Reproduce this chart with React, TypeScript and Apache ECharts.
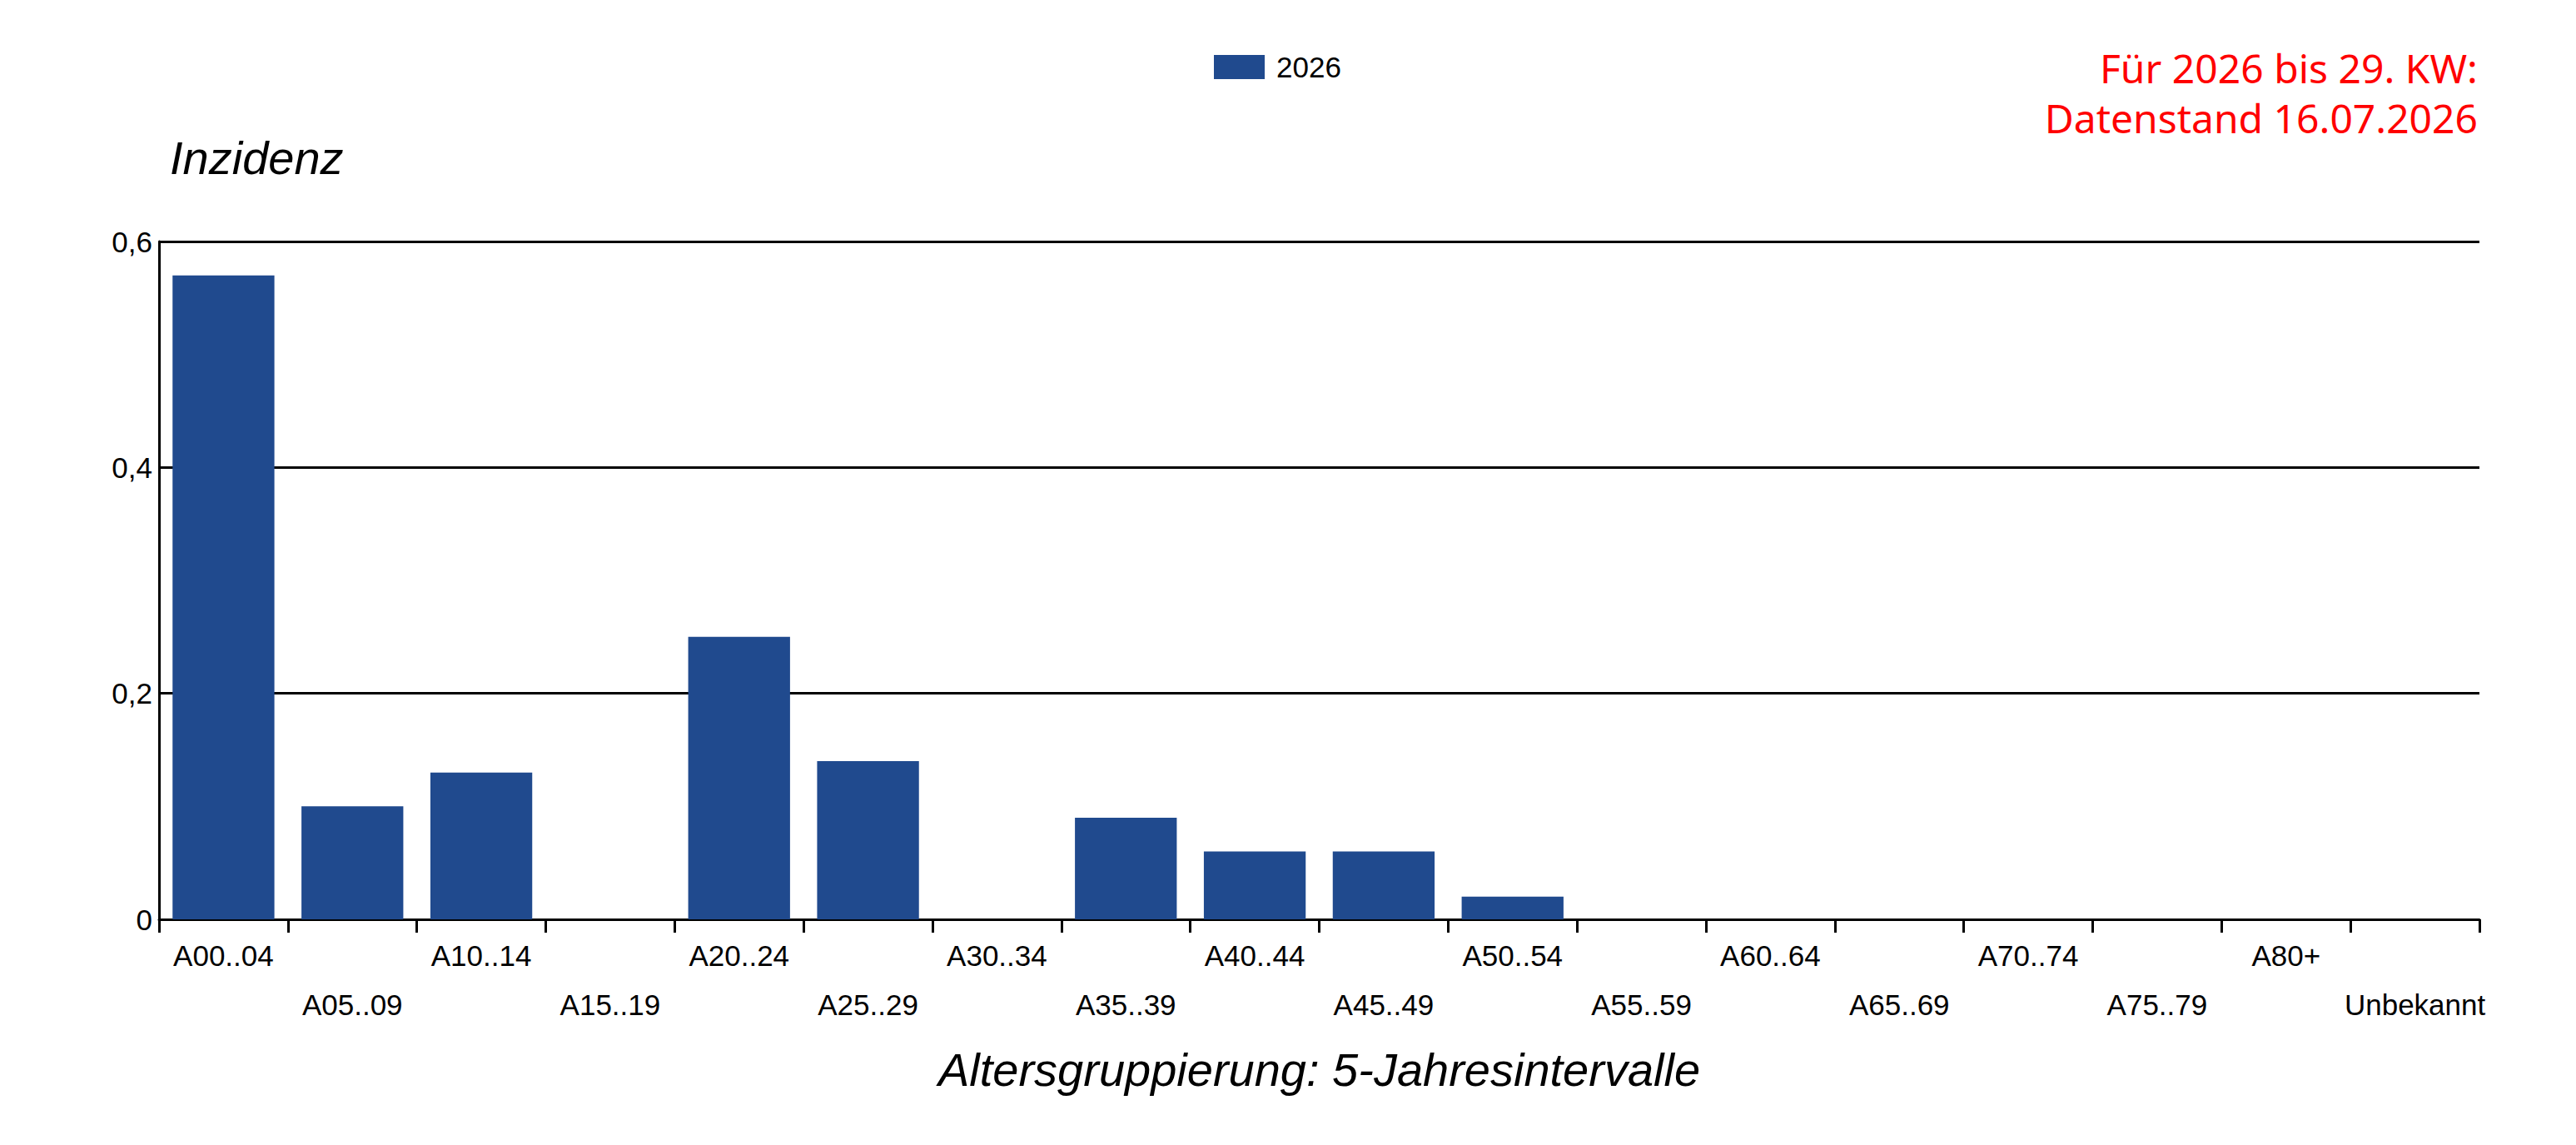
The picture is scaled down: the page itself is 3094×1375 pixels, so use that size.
import React, { useEffect, useRef } from 'react';
import * as echarts from 'echarts';

// age groups (5-year bands) and the incidence for 2026
const ageGroups = [
  'A00..04', 'A05..09', 'A10..14', 'A15..19', 'A20..24', 'A25..29',
  'A30..34', 'A35..39', 'A40..44', 'A45..49', 'A50..54', 'A55..59',
  'A60..64', 'A65..69', 'A70..74', 'A75..79', 'A80+', 'Unbekannt',
];
const incidence2026 = [
  0.57, 0.1, 0.13, 0, 0.25, 0.14,
  0, 0.09, 0.06, 0.06, 0.02, 0,
  0, 0, 0, 0, 0, 0,
];
const seriesName = '2026';
const yMin = 0;
const yMax = 0.6;
const yStep = 0.2;
const noteLines = ['Für 2026 bis 29. KW:', 'Datenstand 16.07.2026'];

const BAR_COLOR = '#204a8e';
const FONT = 'Liberation Sans, Arial, sans-serif';

const App: React.FC = () => {
  const chartRef = useRef<HTMLDivElement>(null);

  useEffect(() => {
    const chart = echarts.init(chartRef.current!, null, { renderer: 'svg' });

    const options = {
      animation: false,
      textStyle: { fontFamily: FONT },
      legend: {
        left: 1458,
        top: 63,
        padding: 0,
        icon: 'rect',
        itemWidth: 61,
        itemHeight: 29,
        data: [seriesName],
        textStyle: {
          fontFamily: FONT,
          fontSize: 35,
          color: '#000',
          lineHeight: 29,
          padding: [0, 0, 0, 9],
        },
      },
      grid: {
        left: 191,
        right: 116,
        top: 290,
        bottom: 271,
        containLabel: false,
      },
      xAxis: {
        type: 'category',
        data: ageGroups,
        name: 'Altersgruppierung: 5-Jahresintervalle',
        nameLocation: 'middle',
        nameGap: 180,
        nameTextStyle: {
          fontFamily: FONT,
          fontSize: 56,
          fontStyle: 'italic',
          color: '#000',
          verticalAlign: 'middle',
        },
        axisLine: { show: true, lineStyle: { color: '#000', width: 3 } },
        axisTick: { show: true, interval: 0, length: 16, lineStyle: { color: '#000', width: 3 } },
        axisLabel: {
          interval: 0,
          margin: 14,
          fontFamily: FONT,
          fontSize: 35,
          color: '#000',
          lineHeight: 59,
          // every second label goes on a second row
          formatter: (value: string, index: number) => (index % 2 === 1 ? '\n' + value : value),
        },
        splitLine: { show: false },
      },
      yAxis: {
        type: 'value',
        min: yMin,
        max: yMax,
        interval: yStep,
        name: 'Inzidenz',
        nameLocation: 'end',
        nameGap: 101,
        nameTextStyle: {
          fontFamily: FONT,
          fontSize: 56,
          fontStyle: 'italic',
          color: '#000',
          align: 'left',
          verticalAlign: 'middle',
          padding: [0, 0, 0, 13],
        },
        axisLine: { show: true, lineStyle: { color: '#000', width: 3 } },
        axisTick: { show: false },
        axisLabel: {
          margin: 8,
          fontFamily: FONT,
          fontSize: 35,
          color: '#000',
          formatter: (v: number) => String(Math.round(v * 10) / 10).replace('.', ','),
        },
        splitLine: { show: true, lineStyle: { color: '#000', width: 3 } },
      },
      graphic: noteLines.map((line, i) => ({
        type: 'text',
        x: 2976,
        y: 81 + i * 60,
        style: {
          text: line,
          fontFamily: 'Noto Sans, sans-serif',
          fontSize: 48,
          fill: '#ff0000',
          align: 'right',
          verticalAlign: 'middle',
        },
      })),
      series: [
        {
          name: seriesName,
          type: 'bar',
          data: incidence2026,
          barWidth: '79%',
          itemStyle: { color: BAR_COLOR },
        },
      ],
    };

    chart.setOption(options);

    return () => {
      chart.dispose();
    };
  }, []);

  return (
    <div
      ref={chartRef}
      style={{
        position: 'absolute',
        left: 0,
        top: 0,
        width: '3094px',
        height: '1375px',
        background: '#fff',
      }}
    />
  );
};

export default App;
